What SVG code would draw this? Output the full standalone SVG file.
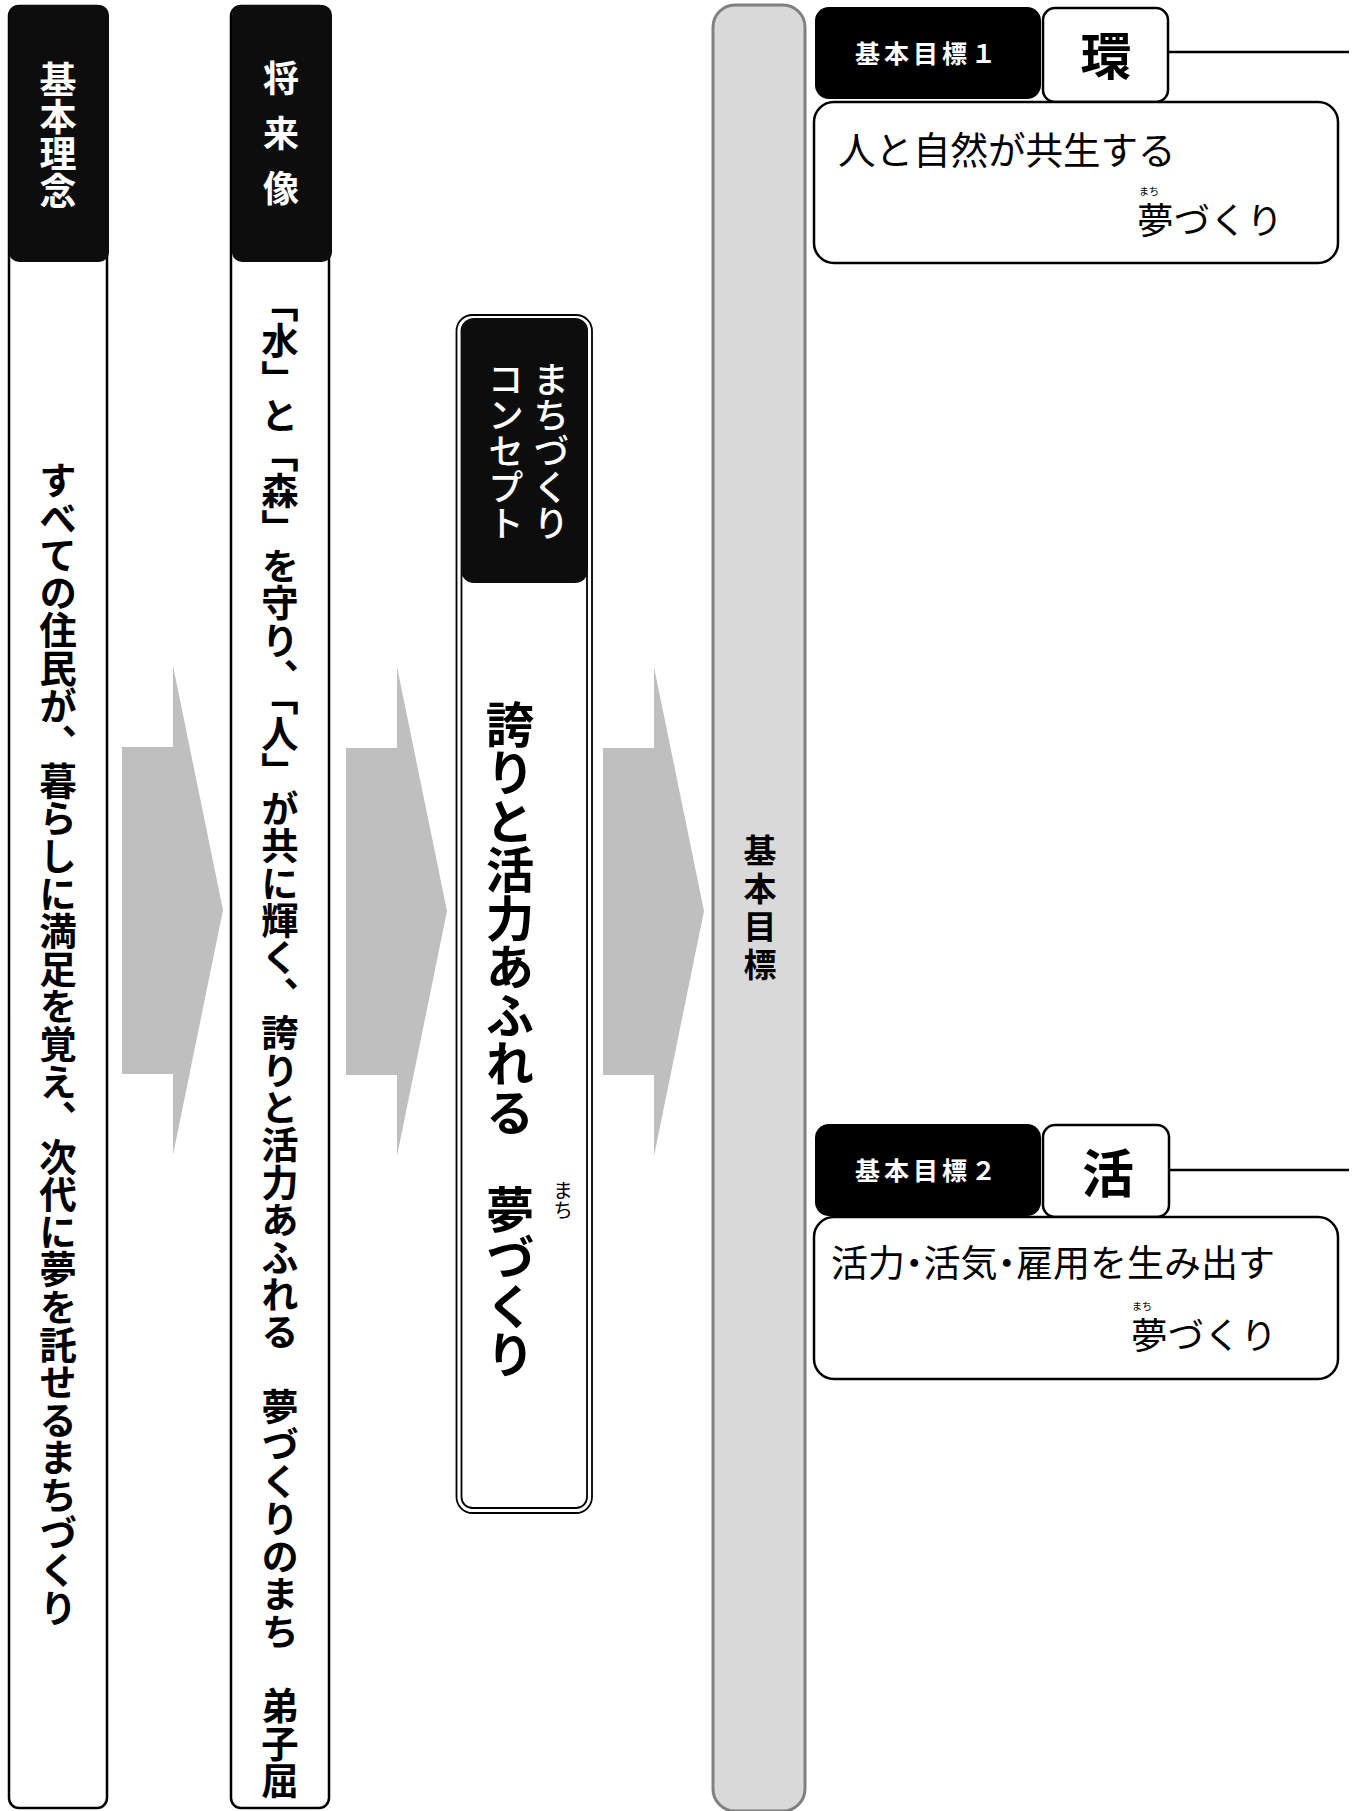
<svg xmlns="http://www.w3.org/2000/svg" width="1359" height="1811" viewBox="0 0 1359 1811">
<style>
  text { font-family: "Noto Sans CJK JP", "Noto Sans", sans-serif; }
  .vt { writing-mode: vertical-rl; }
  .b { font-weight: 700; }
  .m { font-weight: 500; }
  .col { fill: #ffffff; stroke: #000000; stroke-width: 2.5; }
  .hdr { fill: #0d0d0d; }
  .thin { fill: none; stroke: #000000; stroke-width: 1.8; }
  .arrow { fill: #bfbfbf; }
  .box { fill: #ffffff; stroke: #000000; stroke-width: 2.5; }
  .wt { fill: #ffffff; }
  .bt { fill: #000000; }
  .halt { font-feature-settings: "halt" 1; }
</style>
<rect width="1359" height="1811" fill="#ffffff"/>

<g id="connectors">
  <polygon class="arrow" points="122,747 173,747 173,666 223,910 173,1155 173,1074 122,1074"/>
  <polygon class="arrow" points="346,748 397,748 397,667 447,911 397,1156 397,1075 346,1075"/>
  <polygon class="arrow" points="603,748 654,748 654,667 704,911 654,1156 654,1075 603,1075"/>
  <line x1="1168" y1="52" x2="1349" y2="52" stroke="#000" stroke-width="2.5"/>
  <line x1="1169" y1="1170" x2="1349" y2="1170" stroke="#000" stroke-width="2.5"/>
</g>

<g id="kihon-rinen">
  <rect class="col" x="9" y="6" width="98" height="1802" rx="10"/>
  <rect class="hdr" x="9" y="5" width="100" height="257" rx="10"/>
  <text class="vt b wt" x="58" y="61" font-size="37">基本理念</text>
  <text class="vt b bt" x="58" y="461" font-size="37.6">すべての住民が、暮らしに満足を覚え、次代に夢を託せるまちづくり</text>
</g>

<g id="shoraizo">
  <rect class="col" x="231" y="6" width="98" height="1802" rx="10"/>
  <rect class="hdr" x="232" y="5" width="100" height="257" rx="10"/>
  <text class="vt b wt" x="281" y="60" font-size="36" letter-spacing="19">将来像</text>
  <text class="vt b bt" x="280" y="285" font-size="37.4">「水」と「森」を守り、「人」が共に輝く、誇りと活力あふれる　夢づくりのまち　弟子屈</text>
</g>

<g id="concept">
  <rect class="thin" x="456.5" y="315" width="135.5" height="1198" rx="16" fill="#fff"/>
  <rect class="thin" x="461.5" y="320" width="125.5" height="1188" rx="11"/>
  <rect class="hdr" x="461" y="318" width="127" height="265" rx="13"/>
  <text class="vt m wt" x="551" y="361" font-size="36">まちづくり</text>
  <text class="vt m wt" x="506" y="361" font-size="36">コンセプト</text>
  <text class="vt b bt" x="510" y="700" font-size="48.5">誇りと活力あふれる　夢づくり</text>
  <text class="vt bt" x="563" y="1180" font-size="20">まち</text>
</g>

<g id="kihon-mokuhyo">
  <rect x="713" y="5" width="92" height="1806" rx="22" fill="#d9d9d9" stroke="#808080" stroke-width="3"/>
  <text class="vt b bt" x="760" y="834" font-size="33" letter-spacing="5">基本目標</text>
</g>

<g id="goal1">
  <rect x="815" y="7" width="226" height="92" rx="14" fill="#000"/>
  <text class="b wt" x="855" y="63" font-size="25" letter-spacing="4">基本目標１</text>
  <rect class="box" x="1043" y="8" width="125" height="94" rx="12"/>
  <text class="b bt" x="1106" y="75" font-size="51" text-anchor="middle">環</text>
  <rect class="box" x="814" y="102" width="524" height="161" rx="20"/>
  <text class="bt" x="838" y="164" font-size="37.5">人と自然が共生する</text>
  <text class="bt" x="1139" y="195" font-size="10">まち</text>
  <text class="bt" x="1137" y="234" font-size="36.5">夢づくり</text>
</g>

<g id="goal2">
  <rect x="815" y="1124" width="226" height="92" rx="14" fill="#000"/>
  <text class="b wt" x="855" y="1180" font-size="25" letter-spacing="4">基本目標２</text>
  <rect class="box" x="1043" y="1125" width="126" height="92" rx="12"/>
  <text class="b bt" x="1108" y="1193" font-size="52" text-anchor="middle">活</text>
  <rect class="box" x="814" y="1217" width="524" height="162" rx="20"/>
  <text class="bt halt" x="831" y="1277" font-size="37">活力・活気・雇用を生み出す</text>
  <text class="bt" x="1132" y="1310" font-size="10">まち</text>
  <text class="bt" x="1131" y="1349" font-size="36.5">夢づくり</text>
</g>
</svg>
